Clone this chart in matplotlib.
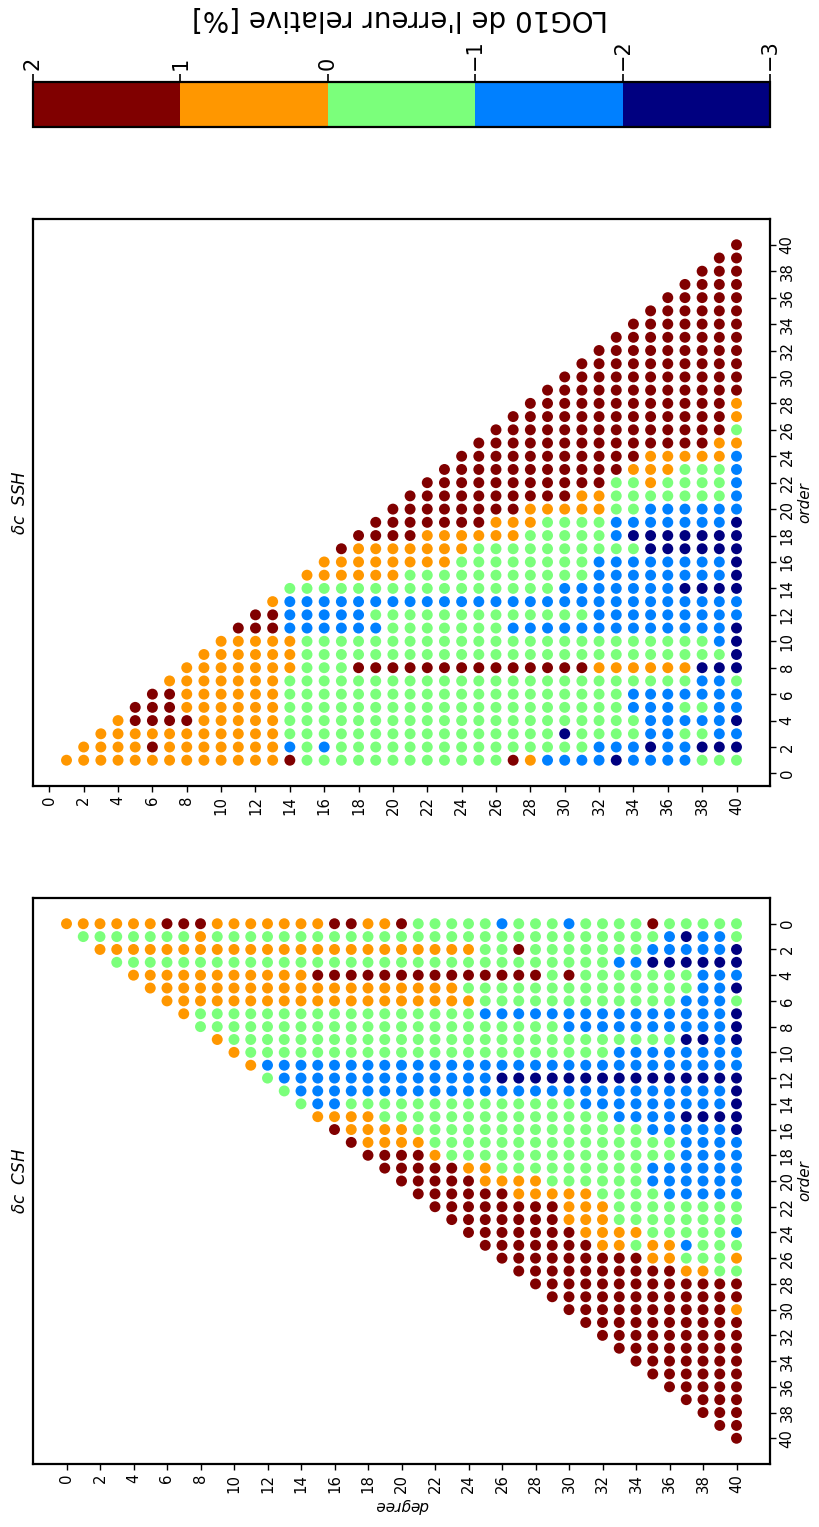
import numpy as np
import matplotlib
matplotlib.use("Agg")
import matplotlib.pyplot as plt
from matplotlib.colors import BoundaryNorm

# Colour-class codes -> representative LOG10 relative error [%]
CODES = {'R': 1.5, 'O': 0.5, 'G': -0.5, 'B': -1.5, 'N': -2.5}

# CSH: one string per degree n = 0..40, orders m = 0..n
CSH = [
    "O", "OG", "OGO", "OGOG", "OGOGO", "OGOGOO", "RGOGOOO", "RGOGOOOO",
    "ROOGOOOGG", "OGOGOOOGGO", "OGOGOOOGGGO", "OGOGOOOGGGGO",
    "OGOGOOOGGGGBG", "OGOGOOOGGGGBBG", "OGOGOOOGGGGBBBG", "OGOGROOGGGGBBBBO",
    "RGOGROOGGGGBBBBOR", "RGOGROOGGGGBBBGOOR", "OGOGROOGGGGBBBGOOOR",
    "OGOGROOGGGGBBBGGOORR", "RGOGROOGGGGBBBGGOORRR", "GGOGROOGGGGBBBGGGORRRR",
    "GGOGROOGGGGBBBGGGGORRRR", "GGOGROOGGGGBBBGGGGGRRRRR",
    "GGOGRGOGGGGBBBGGGGGORRRRR", "GGGGRGGBGGGBBBGGGGGOORRRRR",
    "BGGGRGGBGGGBNBGGGGGGORRRRRR", "GGRGRGGBGGGBNBGGGGGGOORRRRRR",
    "GGGGRGGBGGGBNBGGGGGGOORRRRRRR", "GGGGGGGBGGGBNBGGGGGGGORRRRRRRR",
    "BGGGRGGBBGGBNBGGGGGGGOOORRRRRRR", "GGGGGGGBBGGBNBBGGGGGGOOOORRRRRRR",
    "GGGGGGGBBGGBNBBGGGGGGGOOOORRRRRRR", "GGGBGGGBBGBBNBBBGGGGGGGGOORRRRRRRR",
    "GGGBGGGBBGBBNBBBGGGGGGGGOGRRRRRRRRR", "RGBNGGGBBGBBNBBBBGGBBGGGGOORRRRRRRRR",
    "GBBNGGGBBGBBNBBBBGGBBBGGGOORRRRRRRRRR", "GNBNGGBBBNBBNBBNBBBBBBGGGBGORRRRRRRRRR",
    "GBBNBBBBBNBBNBBNBBBBBBGGGGGORRRRRRRRRRR", "GBBNBBBBBBBBNBBNBBBBBBGGGGGGRRRRRRRRRRRR",
    "GGNNBNGNNNBBNNNNNBBBBBGGBGOGRRORRRRRRRRRR",
]

# SSH: one string per degree n = 1..40, orders m = 1..n
SSH = [
    "O", "OO", "OOO", "OOOO", "OOORR", "ORORRR", "OOORRRO", "OOOROOOO",
    "OOOOOOOOO", "OOOOOOOOOO", "OOOOOOOOOOR", "OOOOOOOOOORR",
    "OOOOOOOOOORRO", "RBGGGGGOOOBBBG", "GGGGGGGGGGBBBGO", "GBGGGGGGGGBBBGOO",
    "GGGGGGGGGGBBBGOOR", "GGGGGGGRGGBBBGOOOR", "GGGGGGGRGGBGBGOOORR",
    "GGGGGGGRGGGGBGOOORRR", "GGGGGGGRGGGGBGGOORRRR", "GGGGGGGRGGGGBGGOOORRRR",
    "GGGGGGGRGGGGBGGOOORRRRR", "GGGGGGGRGGGGBGGGOORRRRRR",
    "GGGGGGGRGGGGBGGGGORRRRRRR", "GGGGGGGRGGGGBGGGGOORRRRRRR",
    "RGGGGGGRGGBGBGGGGOORRRRRRRR", "OGGGGGGRGGBGBGGGGGOORRRRRRRR",
    "BGGGGGGRGGBGBGGGGGGORRRRRRRRR", "BGNGGGGRGGBGBBGGGGGORRRRRRRRRR",
    "BGGGGGGRGGBGBBGGGGGOORRRRRRRRRR", "BBGGGGGOGGBBBBBBGGGOORRRRRRRRRRR",
    "NBGGGGGOGGBBBBBBGBBGGGRRRRRRRRRRR", "BBGGBBGOGGBBBBBBGNBGGGORRRRRRRRRRR",
    "BNBBBBGOGGBBBBBBNNBBGOOORRRRRRRRRRR", "BBBBBBGOGGBBBBBBNNBBGGOORRRRRRRRRRRR",
    "BBGBGBGOGGBBBNBBNNBBGGGORRRRRRRRRRRRR", "GNGBGBBNGGBBBNBBNNBBGGGORRRRRRRRRRRRRR",
    "GNBBBBBNGBBBBNBBNNBBGGGOORRRRRRRRRRRRRR", "GNBNBBGNNNNBBNNNNNNBBBBBOGOORRRRRRRRRRRR",
]

CB_TICKS = [2, 1, 0, -1, -2, -3]
DEG_TICKS = list(range(0, 41, 2))
ORD_TICKS = list(range(0, 41, 2))


def to_points(table, first_order):
    n_list, m_list, v_list = [], [], []
    for n, row in enumerate(table, start=(0 if first_order == 0 else 1)):
        for k, ch in enumerate(row):
            n_list.append(n)
            m_list.append(first_order + k)
            v_list.append(CODES[ch])
    return np.array(n_list), np.array(m_list), np.array(v_list)


W, H = 819, 1527
fig = plt.figure(figsize=(W / 100, H / 100), dpi=100)
cmap = plt.get_cmap('jet', 5)
norm = BoundaryNorm([-3, -2, -1, 0, 1, 2], cmap.N)


def frac(x0, y0, x1, y1):
    return [x0 / W, 1 - y1 / H, (x1 - x0) / W, (y1 - y0) / H]


ax_c = fig.add_axes(frac(33, 898, 770, 1464))
ax_s = fig.add_axes(frac(33, 219, 770, 786))
cax = fig.add_axes(frac(33, 82, 770, 127))

for ax in (ax_c, ax_s, cax):
    for sp in ax.spines.values():
        sp.set_linewidth(1.6)

# CSH panel
n, m, v = to_points(CSH, 0)
sc = ax_c.scatter(n, m, c=v, cmap=cmap, norm=norm, s=62, linewidths=0)
ax_c.set_xlim(-2, 42)
ax_c.set_ylim(42, -2)

# SSH panel
n2, m2, v2 = to_points(SSH, 1)
ax_s.scatter(n2, m2, c=v2, cmap=cmap, norm=norm, s=62, linewidths=0)
ax_s.set_xlim(-0.95, 41.95)
ax_s.set_ylim(-0.95, 41.95)

for ax, ttl in ((ax_c, r"$\delta c$  CSH"), (ax_s, r"$\delta c$  SSH")):
    ax.set_xticks(DEG_TICKS)
    ax.set_xticklabels([str(t) for t in DEG_TICKS], rotation=90)
    ax.set_yticks(ORD_TICKS)
    ax.set_yticklabels([str(t) for t in ORD_TICKS], rotation=90, va='center')
    ax.yaxis.tick_right()
    ax.yaxis.set_label_position('right')
    ax.tick_params(labelsize=10.7, length=4, width=1, direction='out', pad=3)
    ax.set_ylabel('order', rotation=90, fontsize=11, fontstyle='italic', labelpad=2)
    pos = ax.get_position()
    fig.text(20 / W, pos.y0 + pos.height / 2, ttl, rotation=90, ha='center',
             va='center', fontsize=12, fontstyle='italic')

ax_c.set_xlabel('degree', rotation=180, fontsize=11, fontstyle='italic', labelpad=4)

# colorbar
cb = fig.colorbar(sc, cax=cax, orientation='horizontal', ticks=CB_TICKS)
cax.invert_xaxis()
cax.xaxis.set_ticks_position('top')
cax.set_xticks(CB_TICKS)
cax.set_xticklabels([f"{t}".replace('-', '\u2212') for t in CB_TICKS], rotation=90)
cax.tick_params(labelsize=15, length=6, width=1.2, pad=3)
cb.outline.set_linewidth(1.6)
fig.text(400 / W, 1 - 18 / H, "LOG10 de l'erreur relative [%]", rotation=180,
         ha='center', va='center', fontsize=20)

fig.savefig('out.png', dpi=100)
